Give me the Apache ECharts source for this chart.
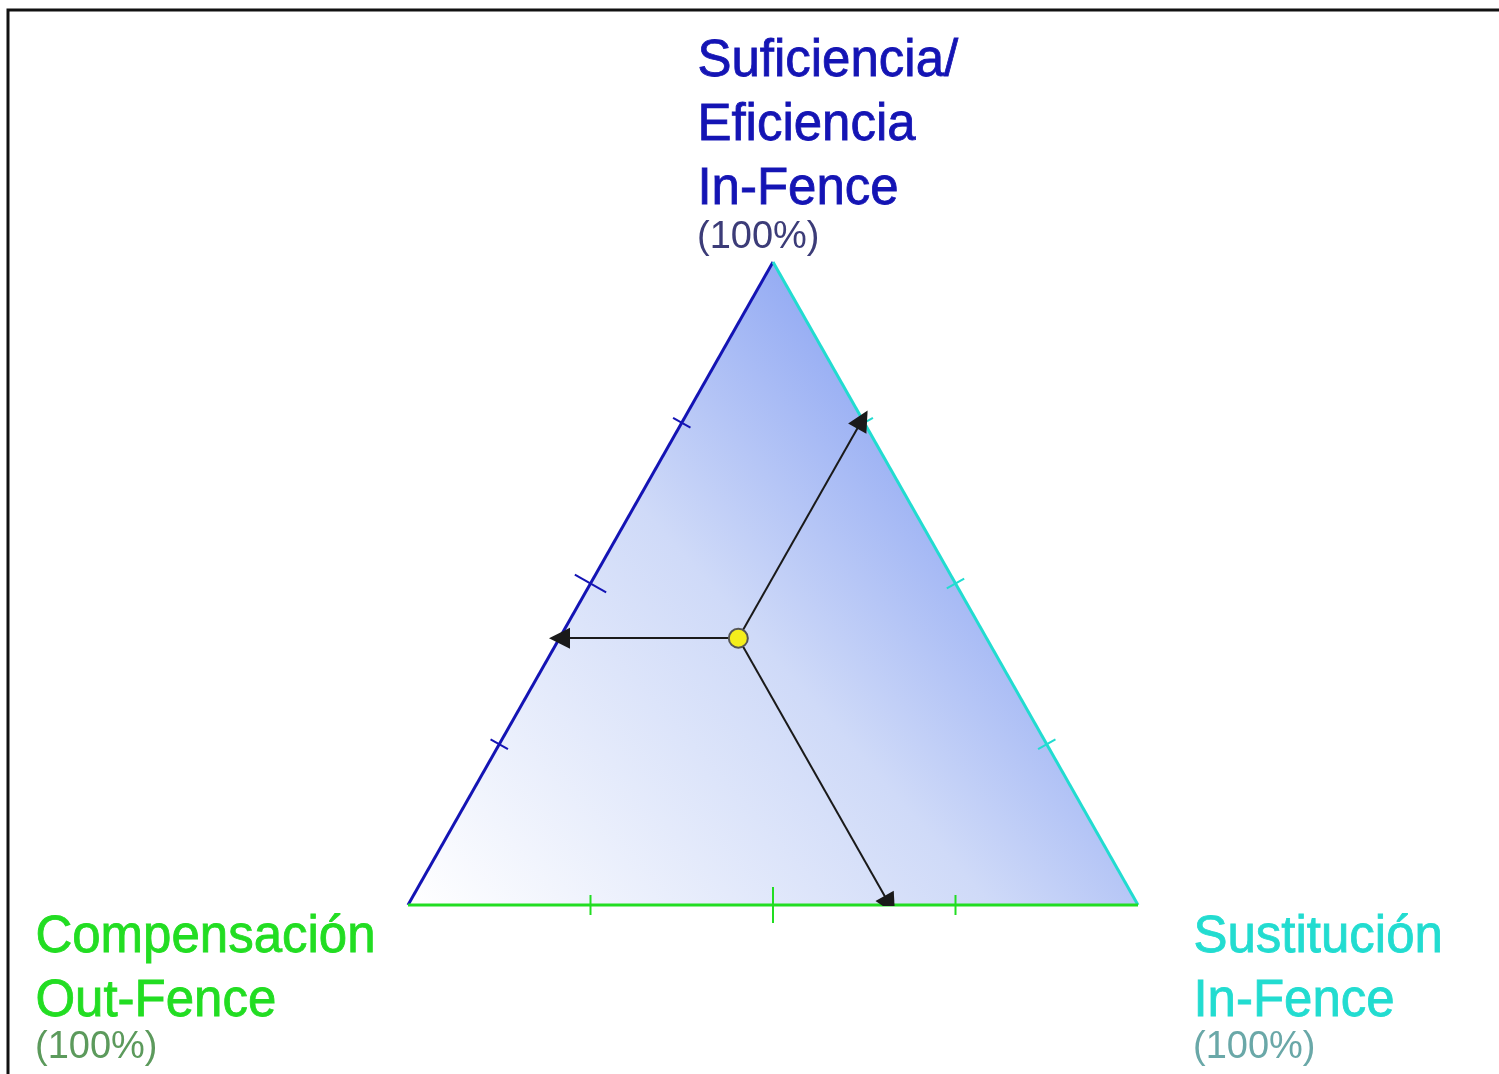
<!DOCTYPE html>
<html>
<head>
<meta charset="utf-8">
<title>Triángulo</title>
<script src="https://cdn.jsdelivr.net/npm/echarts@6/dist/echarts.min.js"></script>
<style>
  html, body { margin: 0; padding: 0; background: #fff; }
  #chart { width: 1499px; height: 1074px; }
</style>
</head>
<body>
<div id="chart"></div>
<script>
// vertices: 0 = top (Suficiencia), 1 = bottom-left (Compensación), 2 = bottom-right (Sustitución)
const vertexNames = ['Suficiencia/\nEficiencia\nIn-Fence', 'Compensación\nOut-Fence', 'Sustitución\nIn-Fence']
const vertexValueLabel = '(100%)'
const vertexColors = ['#1414b4', '#22dd22', '#22dcd0']
const subLabelColors = ['#3c3c78', '#5c9a5c', '#6aa8a8']
// point in percent: [Suficiencia, Compensación, Sustitución]
const pointValue = [41.5, 34, 24.5]
// axis ticks (percent) on every edge
const tickValues = [25, 50, 75]
const majorTick = 50
// edges: [from vertex, to vertex, colour index]
const edges = [[1, 0, 0], [0, 2, 2], [2, 1, 1]]

// ternary (a top, b left, c right) -> cartesian data coords
const toXY = (a, b, c) => {
  const s = a + b + c
  return [(c + a / 2) / s, a / s]
}
const corners = [toXY(1, 0, 0), toXY(0, 1, 0), toXY(0, 0, 1)]

const total = pointValue[0] + pointValue[1] + pointValue[2]
const pa = pointValue[0] / total
const pb = pointValue[1] / total
const pc = pointValue[2] / total
const pointXY = toXY(pa, pb, pc)
const arrowEnds = [
  toXY(pa, 1 - pa, 0), // to left edge
  toXY(1 - pc, 0, pc), // to right edge
  toXY(0, pb, 1 - pb) // to bottom edge
]

// tick data: [edge index, value]
const tickData = []
edges.forEach((e, i) => {
  tickValues.forEach((v) => tickData.push([i, v]))
})

const chart = echarts.init(document.getElementById('chart'))

const labelFont = '51px "Liberation Sans", Arial, sans-serif'
const subFont = '38px "Liberation Sans", Arial, sans-serif'

const option = {
  animation: false,
  grid: { left: 408, right: 361, top: 262, bottom: 169 },
  xAxis: { type: 'value', min: 0, max: 1, show: false },
  yAxis: { type: 'value', min: 0, max: 1, show: false },
  series: [
    {
      // triangle fill
      type: 'custom',
      silent: true,
      data: [[0]],
      z: 1,
      renderItem: (params, api) => {
        const pts = corners.map((c) => api.coord(c))
        return {
          type: 'polygon',
          shape: { points: pts },
          style: {
            fill: new echarts.graphic.LinearGradient(0, 1, 1, 0, [
              { offset: 0, color: '#ffffff' },
              { offset: 0.45, color: '#cfdaf8' },
              { offset: 0.75, color: '#8fa7f3' },
              { offset: 1, color: '#5f82ee' }
            ])
          }
        }
      }
    },
    {
      // edges
      type: 'custom',
      silent: true,
      data: edges,
      z: 3,
      renderItem: (params, api) => {
        const e = edges[params.dataIndex]
        const p1 = api.coord(corners[e[0]])
        const p2 = api.coord(corners[e[1]])
        return {
          type: 'line',
          shape: { x1: p1[0], y1: p1[1], x2: p2[0], y2: p2[1] },
          style: { stroke: vertexColors[e[2]], lineWidth: 3 }
        }
      }
    },
    {
      // ticks
      type: 'custom',
      silent: true,
      data: tickData,
      z: 3,
      renderItem: (params, api) => {
        const t = tickData[params.dataIndex]
        const e = edges[t[0]]
        const f = t[1] / 100
        const c1 = corners[e[0]]
        const c2 = corners[e[1]]
        const p = api.coord([c1[0] + (c2[0] - c1[0]) * f, c1[1] + (c2[1] - c1[1]) * f])
        const q1 = api.coord(c1)
        const q2 = api.coord(c2)
        const dx = q2[0] - q1[0]
        const dy = q2[1] - q1[1]
        const len = Math.sqrt(dx * dx + dy * dy)
        const nx = -dy / len
        const ny = dx / len
        const half = t[1] === majorTick && t[0] !== 1 ? 18 : 10
        return {
          type: 'line',
          shape: {
            x1: p[0] - nx * half,
            y1: p[1] - ny * half,
            x2: p[0] + nx * half,
            y2: p[1] + ny * half
          },
          style: { stroke: vertexColors[e[2]], lineWidth: 2 }
        }
      }
    },
    {
      // arrows from the point to each edge
      type: 'lines',
      coordinateSystem: 'cartesian2d',
      silent: true,
      z: 4,
      symbol: ['none', 'triangle'],
      symbolSize: [15, 21],
      lineStyle: { color: '#1a1a1a', width: 2, opacity: 1 },
      data: arrowEnds.map((end) => ({ coords: [pointXY, end] }))
    },
    {
      type: 'scatter',
      silent: true,
      z: 5,
      symbolSize: 19,
      itemStyle: { color: '#f4ee1c', borderColor: '#555', borderWidth: 2, opacity: 1 },
      data: [pointXY]
    }
  ],
  graphic: [
    {
      type: 'rect',
      silent: true,
      shape: { x: 8, y: 10, width: 1600, height: 1200 },
      style: { fill: 'none', stroke: '#111', lineWidth: 3 }
    },
    {
      type: 'text',
      left: 697,
      top: 30,
      style: {
        text: vertexNames[0],
        font: labelFont,
        lineHeight: 64,
        fill: vertexColors[0],
        stroke: vertexColors[0],
        lineWidth: 0.8
      }
    },
    {
      type: 'text',
      left: 697,
      top: 219,
      style: { text: vertexValueLabel, font: subFont, fill: subLabelColors[0] }
    },
    {
      type: 'text',
      left: 35,
      top: 906,
      style: {
        text: vertexNames[1],
        font: labelFont,
        lineHeight: 64,
        fill: vertexColors[1],
        stroke: vertexColors[1],
        lineWidth: 0.8
      }
    },
    {
      type: 'text',
      left: 35,
      top: 1029,
      style: { text: vertexValueLabel, font: subFont, fill: subLabelColors[1] }
    },
    {
      type: 'text',
      left: 1193,
      top: 906,
      style: {
        text: vertexNames[2],
        font: labelFont,
        lineHeight: 64,
        fill: vertexColors[2],
        stroke: vertexColors[2],
        lineWidth: 0.8
      }
    },
    {
      type: 'text',
      left: 1193,
      top: 1029,
      style: { text: vertexValueLabel, font: subFont, fill: subLabelColors[2] }
    }
  ]
}

chart.setOption(option)
</script>
</body>
</html>
